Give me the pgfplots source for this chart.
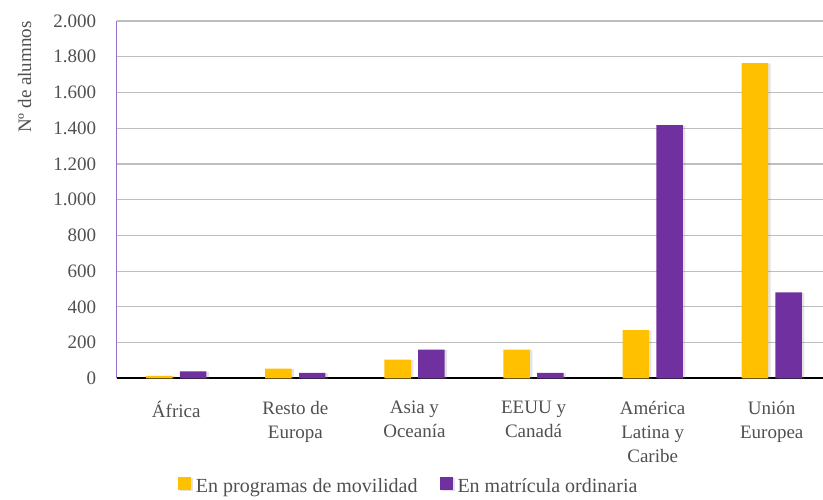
\documentclass[border=0pt]{standalone}
\usepackage{pgfplots}
\pgfplotsset{compat=1.18}
\usepackage{fontspec}
\setmainfont{Liberation Serif}
\usetikzlibrary{shadows}
\definecolor{yel}{HTML}{FFC000}
\definecolor{pur}{HTML}{7030A0}
\definecolor{txt}{HTML}{505050}
\definecolor{gridc}{HTML}{BEBEBE}
\definecolor{axpur}{HTML}{9A70CC}
\begin{document}
\begin{tikzpicture}
\begin{axis}[
  scale only axis, width=714.6pt, height=357.3pt,
  xmin=-0.5, xmax=5.5, ymin=0, ymax=2000,
  ytick={0,200,...,2000},
  xtick={0,1,2,3,4,5},
  xticklabels={África, Resto de\\Europa, Asia y\\Oceanía, EEUU y\\Canadá, América\\Latina y\\Caribe, Unión\\Europea},
  font=\fontsize{19}{24}\selectfont,
  /pgf/number format/.cd, 1000 sep={.}, assume math mode=true, /pgfplots/.cd,
  xticklabel style={align=center, text=txt, font=\fontsize{19}{24}\selectfont, yshift=-19pt},
  yticklabel style={text=txt, font=\fontsize{19}{24}\selectfont, xshift=-17pt},
  major tick length=0pt,
  axis x line=bottom, axis y line=left,
  x axis line style={-, black, line width=2pt},
  y axis line style={-, axpur, line width=1pt},
  ymajorgrids, grid style={gridc, line width=1.2pt},
  ylabel={Nº de alumnos},
  ylabel style={at={(rel axis cs:0,0.843)}, anchor=center, yshift=92pt, text=txt, font=\fontsize{19}{24}\selectfont},
  legend columns=2,
  legend style={draw=none, fill=none, at={(rel axis cs:0,0)}, anchor=north west, xshift=61pt, yshift=-98pt,
    font=\fontsize{20}{24}\selectfont, text=txt, inner sep=0pt,
    /tikz/every even column/.append style={column sep=17pt},
    nodes={inner xsep=5pt}},
  legend image code/.code={\fill[#1] (0pt,-4pt) rectangle (13pt,9pt);},
  clip=false,
]
\addplot[ybar, bar width=0.222, bar shift=-0.142, fill=yel, draw=none,
  drop shadow={shadow xshift=2.5pt, shadow yshift=-0.5pt, opacity=0.22}]
  coordinates {(0,13) (1,54) (2,104) (3,160) (4,270) (5,1764)};
\addlegendentry{En programas de movilidad}
\addplot[ybar, bar width=0.222, bar shift=0.142, fill=pur, draw=none,
  drop shadow={shadow xshift=2.5pt, shadow yshift=-0.5pt, opacity=0.22}]
  coordinates {(0,39) (1,30) (2,160) (3,30) (4,1417) (5,481)};
\addlegendentry{En matrícula ordinaria}
\end{axis}
\pgfresetboundingbox
\useasboundingbox (-116.7pt,-120.7pt) rectangle (706.3pt,378.3pt);
\end{tikzpicture}
\end{document}
